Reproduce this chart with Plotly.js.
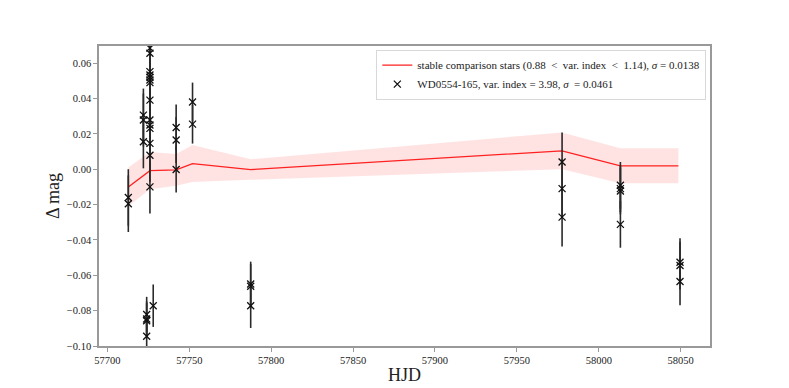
<!DOCTYPE html>
<html>
<head>
<meta charset="utf-8">
<script src="https://cdn.plot.ly/plotly-3.0.1.min.js"></script>
<style>
  body { margin: 0; background: #fff; }
  #plot { width: 789px; height: 388px; }
</style>
</head>
<body>
<div id="plot"></div>
<script>
// WD0554-165 observations (HJD, delta mag, error)
var hjd = [57712.8, 57712.8,
  57722, 57722, 57722,
  57726, 57726, 57726, 57726, 57726, 57726, 57726, 57726, 57726, 57726, 57726, 57726, 57726, 57726,
  57724, 57724, 57724, 57724,
  57728,
  57742, 57742, 57742,
  57752, 57752,
  57787.5, 57787.5, 57787.5,
  57977.6, 57977.6, 57977.6,
  58013.2, 58013.2, 58013.2, 58013.2,
  58049.6, 58049.6, 58049.6];
var dmag = [-0.016, -0.0195,
  0.0306, 0.0278, 0.0155,
  0.0685, 0.0656, 0.0552, 0.0533, 0.052, 0.0505, 0.049, 0.0391, 0.0278, 0.025, 0.0231, 0.0146, 0.0079, -0.010,
  -0.0822, -0.0847, -0.0857, -0.0945,
  -0.0772,
  0.0236, 0.0165, -0.0002,
  0.038, 0.0255,
  -0.0649, -0.0662, -0.0772,
  0.0041, -0.011, -0.0271,
  -0.0091, -0.011, -0.0123, -0.0312,
  -0.0526, -0.0545, -0.0635];
var dmagErr = [0.016, 0.016,
  0.015, 0.015, 0.015,
  0.015, 0.015, 0.015, 0.015, 0.015, 0.015, 0.015, 0.015, 0.015, 0.015, 0.015, 0.015, 0.015, 0.015,
  0.010, 0.010, 0.010, 0.010,
  0.012,
  0.013, 0.013, 0.013,
  0.011, 0.011,
  0.0126, 0.0126, 0.0126,
  0.0166, 0.0166, 0.0166,
  0.0132, 0.0132, 0.0132, 0.0132,
  0.0135, 0.0135, 0.0135];

// stable comparison stars: mean and sigma per epoch
var compHjd = [57712.8, 57726, 57742, 57752, 57787.5, 57977.6, 58013.2, 58048.6];
var compMag = [-0.010, -0.0008, -0.0004, 0.0032, -0.0002, 0.0104, 0.0019, 0.0019];
var compSig = [0.011, 0.0105, 0.009, 0.0105, 0.0058, 0.0104, 0.0099, 0.0099];

var upper = compMag.map(function (v, i) { return v + compSig[i]; });
var lower = compMag.map(function (v, i) { return v - compSig[i]; });

var serif = "Liberation Serif, Times New Roman, serif";

var bandLo = {
  x: compHjd, y: lower, type: "scatter", mode: "lines",
  line: { width: 0 }, showlegend: false, hoverinfo: "skip"
};
var bandHi = {
  x: compHjd, y: upper, type: "scatter", mode: "lines",
  line: { width: 0 }, fill: "tonexty", fillcolor: "rgba(255,0,0,0.11)",
  showlegend: false, hoverinfo: "skip"
};
var comp = {
  x: compHjd, y: compMag, type: "scatter", mode: "lines",
  line: { color: "#ff2020", width: 1.3 },
  name: "stable comparison stars (0.88  <  var. index  <  1.14), <i>σ</i> = 0.0138"
};
var target = {
  x: hjd, y: dmag, type: "scatter", mode: "markers",
  marker: { symbol: "x-thin-open", size: 7, color: "#111", line: { color: "#111", width: 1.3 } },
  error_y: { type: "data", array: dmagErr, visible: true, color: "#2a2a2a", thickness: 1.6, width: 0 },
  name: "WD0554-165, var. index = 3.98, <i>σ</i>  = 0.0461"
};

var data = [bandLo, bandHi, comp, target];

var axisStyle = {
  showgrid: false, zeroline: false, showline: true, mirror: true,
  linecolor: "#999", linewidth: 1.5,
  ticks: "outside", ticklen: 4, tickcolor: "#999", tickwidth: 1,
  tickfont: { family: serif, size: 10.5, color: "#222" }
};

var layout = {
  width: 789, height: 388,
  margin: { l: 99, r: 79, t: 46, b: 42 },
  paper_bgcolor: "#fff", plot_bgcolor: "#fff",
  showlegend: true,
  legend: {
    x: 0.994, y: 0.988, xanchor: "right", yanchor: "top",
    traceorder: "normal",
    bgcolor: "#fff", bordercolor: "#d8d8d8", borderwidth: 1,
    font: { family: serif, size: 11, color: "#222" },
    tracegroupgap: 0
  },
  xaxis: Object.assign({}, axisStyle, {
    range: [57694.9, 58067.9], dtick: 50, tick0: 57700, tickformat: "d",
    title: { text: "HJD", font: { family: serif, size: 18, color: "#222" }, standoff: 3 }
  }),
  yaxis: Object.assign({}, axisStyle, {
    range: [-0.1, 0.0697], dtick: 0.02, tick0: 0, tickformat: ".2f",
    title: { text: "Δ mag", font: { family: serif, size: 18, color: "#222" }, standoff: 3 }
  })
};

Plotly.newPlot("plot", data, layout, { displayModeBar: false });
</script>
</body>
</html>
